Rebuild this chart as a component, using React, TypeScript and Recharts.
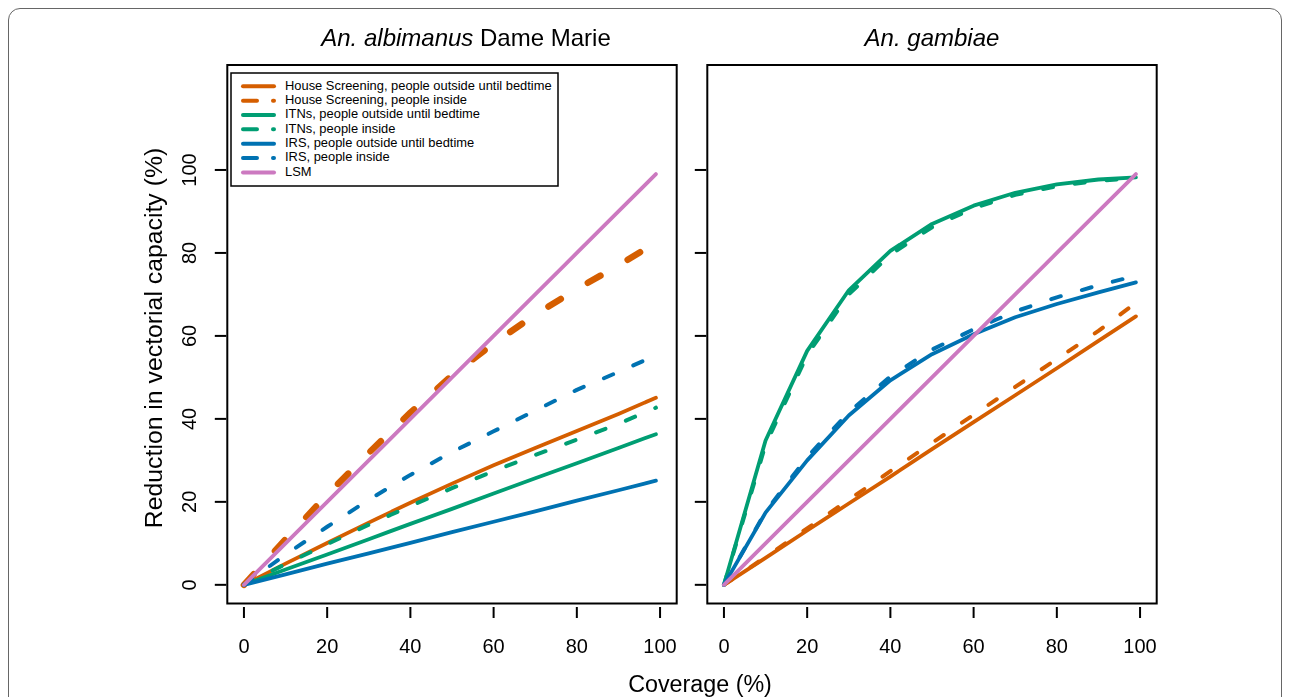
import React from 'react';
import { LineChart, Line, XAxis, YAxis, ReferenceArea } from 'recharts';

// coverage (%) at which each scenario was evaluated
const coverage = [0, 10, 20, 30, 40, 50, 60, 70, 80, 90, 99];
const xTicks = [0, 20, 40, 60, 80, 100];
const yTicks = [0, 20, 40, 60, 80, 100];

// An. albimanus Dame Marie
const albHsOutside = [0, 5.1, 10.1, 15, 19.8, 24.4, 28.8, 33, 37.1, 41.2, 45.1];
const albHsInside = [0, 11, 21.7, 31.8, 41.5, 50.5, 58.2, 65.1, 71.3, 77, 82.5];
const albItnOutside = [0, 3.7, 7.3, 11, 14.7, 18.3, 22, 25.7, 29.3, 33, 36.3];
const albItnInside = [0, 5, 9.8, 14.5, 19, 23.3, 27.4, 31.3, 35, 38.8, 42.7];
const albIrsOutside = [0, 2.5, 5.1, 7.6, 10.1, 12.7, 15.2, 17.7, 20.3, 22.8, 25.1];
const albIrsInside = [0, 7.3, 14, 20.5, 26.5, 32, 37, 42, 47, 51.3, 55.3];
const albLsm = [0, 10, 20, 30, 40, 50, 60, 70, 80, 90, 99];

// An. gambiae
const gamHsOutside = [0, 6.5, 13.1, 19.6, 26.1, 32.7, 39.2, 45.7, 52.2, 58.8, 64.7];
const gamHsInside = [0, 6.7, 13.6, 20.5, 27.4, 34.2, 41, 47.7, 54.4, 61.2, 68];
const gamItnOutside = [0, 34.8, 56.4, 71, 80.5, 87, 91.4, 94.5, 96.5, 97.7, 98.2];
const gamItnInside = [0, 33.8, 55.4, 70, 79.6, 86.2, 90.8, 94, 96.1, 97.4, 98];
const gamIrsOutside = [0, 17.4, 30, 40.8, 49.3, 55.6, 60.4, 64.5, 67.7, 70.5, 72.9];
const gamIrsInside = [0, 17.6, 30.8, 41.6, 50.2, 56.7, 61.6, 65.9, 69.3, 72.2, 74.5];
const gamLsm = [0, 10, 20, 30, 40, 50, 60, 70, 80, 90, 99];

const seriesKeys = ['hsOut', 'hsIn', 'itnOut', 'itnIn', 'irsOut', 'irsIn', 'lsm'];
const seriesNames = [
  'House Screening, people outside until bedtime',
  'House Screening, people inside',
  'ITNs, people outside until bedtime',
  'ITNs, people inside',
  'IRS, people outside until bedtime',
  'IRS, people inside',
  'LSM',
];
const seriesColors = ['#D55E00', '#D55E00', '#009E73', '#009E73', '#0072B2', '#0072B2', '#CC79C0'];
const seriesDashed = [false, true, false, true, false, true, false];

const FONT = '"Liberation Sans", Arial, Helvetica, sans-serif';
const X_DOMAIN: [number, number] = [-4, 104];
const Y_DOMAIN: [number, number] = [-4.5, 125.3];

const toRows = (cols: number[][]) =>
  coverage.map((x, i) => {
    const row: Record<string, number> = { x };
    seriesKeys.forEach((k, j) => {
      row[k] = cols[j][i];
    });
    return row;
  });

const albData = toRows([albHsOutside, albHsInside, albItnOutside, albItnInside, albIrsOutside, albIrsInside, albLsm]);
const gamData = toRows([gamHsOutside, gamHsInside, gamItnOutside, gamItnInside, gamIrsOutside, gamIrsInside, gamLsm]);

const XTick = (props: any) => {
  const { x, y, payload } = props;
  return (
    <g>
      <line x1={x} x2={x} y1={y + 3.5} y2={y + 14.5} stroke='#000' strokeWidth={2} />
      <text x={x} y={y + 49.5} textAnchor='middle' fontSize={20} fontFamily={FONT} fill='#000'>
        {payload.value}
      </text>
    </g>
  );
};

const makeYTick = (withLabel: boolean) => (props: any) => {
  const { x, y, payload } = props;
  return (
    <g>
      <line x1={x - 12.5} x2={x - 1} y1={y} y2={y} stroke='#000' strokeWidth={2} />
      {withLabel && (
        <text
          x={x - 31}
          y={y}
          transform={`rotate(-90, ${x - 31}, ${y})`}
          textAnchor='middle'
          fontSize={20}
          fontFamily={FONT}
          fill='#000'
        >
          {payload.value}
        </text>
      )}
    </g>
  );
};

const Panel: React.FC<{
  data: Record<string, number>[];
  left: number;
  width: number;
  marginLeft: number;
  yAxisWidth: number;
  yLabels: boolean;
  thickHsInside: boolean;
}> = ({ data, left, width, marginLeft, yAxisWidth, yLabels, thickHsInside }) => {
  const plotRight = marginLeft + yAxisWidth + 449.4;
  return (
    <div style={{ position: 'absolute', left, top: 0 }}>
      <LineChart
        width={width}
        height={681}
        data={data}
        margin={{ top: 57, right: width - plotRight, left: marginLeft, bottom: 25.5 }}
      >
        <XAxis
          dataKey='x'
          type='number'
          domain={X_DOMAIN}
          ticks={xTicks}
          interval={0}
          axisLine={false}
          tickLine={false}
          tickSize={0}
          tickMargin={0}
          height={60}
          tick={<XTick />}
        />
        <YAxis
          type='number'
          domain={Y_DOMAIN}
          ticks={yTicks}
          interval={0}
          axisLine={false}
          tickLine={false}
          tickSize={0}
          tickMargin={0}
          width={yAxisWidth}
          tick={makeYTick(yLabels)}
        />
        <ReferenceArea
          x1={X_DOMAIN[0]}
          x2={X_DOMAIN[1]}
          y1={Y_DOMAIN[0]}
          y2={Y_DOMAIN[1]}
          fill='none'
          fillOpacity={0}
          stroke='#000'
          strokeWidth={2}
          ifOverflow='visible'
        />
        {seriesKeys.map((k, i) => {
          const thick = thickHsInside && k === 'hsIn';
          return (
            <Line
              key={k}
              type='linear'
              dataKey={k}
              stroke={seriesColors[i]}
              strokeWidth={thick ? 6.5 : seriesDashed[i] ? 4 : 3.8}
              strokeDasharray={seriesDashed[i] ? (thick ? '14.5 31.5' : '10 22') : undefined}
              strokeLinecap='round'
              strokeLinejoin='round'
              dot={false}
              activeDot={false}
              isAnimationActive={false}
            />
          );
        })}
      </LineChart>
    </div>
  );
};

export default function App() {
  return (
    <div
      style={{
        position: 'relative',
        width: 1274,
        height: 681,
        background: '#fff',
        fontFamily: FONT,
      }}
    >
      {/* outer frame, its bottom edge runs off the page */}
      <div
        style={{
          position: 'fixed',
          left: 8,
          top: 8,
          width: 1274,
          height: 740,
          border: '1.5px solid #666',
          borderRadius: 12,
          boxSizing: 'border-box',
        }}
      />
      <Panel data={albData} left={0} width={680} marginLeft={139.3} yAxisWidth={80} yLabels thickHsInside />
      <Panel data={gamData} left={680} width={594} marginLeft={3.3} yAxisWidth={16} yLabels={false} thickHsInside={false} />
      <svg
        width={1274}
        height={689}
        style={{ position: 'fixed', left: 8, top: 8, pointerEvents: 'none' }}
        fontFamily={FONT}
      >
        <text x={458} y={38} textAnchor='middle' fontSize={24} fill='#000'>
          <tspan fontStyle='italic'>An. albimanus</tspan>
          {' '}Dame Marie
        </text>
        <text x={924} y={38} textAnchor='middle' fontSize={24} fontStyle='italic' fill='#000'>
          An. gambiae
        </text>
        <text x={692} y={683.5} textAnchor='middle' fontSize={23.3} fill='#000'>
          Coverage (%)
        </text>
        <text
          x={153.5}
          y={330}
          transform='rotate(-90, 153.5, 330)'
          textAnchor='middle'
          fontSize={24.8}
          fill='#000'
        >
          Reduction in vectorial capacity (%)
        </text>
        <g>
          <rect x={223} y={65} width={327} height={113} fill='#fff' stroke='#000' strokeWidth={1.5} />
          {seriesNames.map((name, i) => (
            <g key={name}>
              <line
                x1={235}
                x2={266}
                y1={78.3 + 14.35 * i}
                y2={78.3 + 14.35 * i}
                stroke={seriesColors[i]}
                strokeWidth={4}
                strokeLinecap='round'
                strokeDasharray={seriesDashed[i] ? '14 16' : undefined}
              />
              <text x={277} y={81.6 + 14.35 * i} fontSize={12.9} fill='#000'>
                {name}
              </text>
            </g>
          ))}
        </g>
      </svg>
    </div>
  );
}
